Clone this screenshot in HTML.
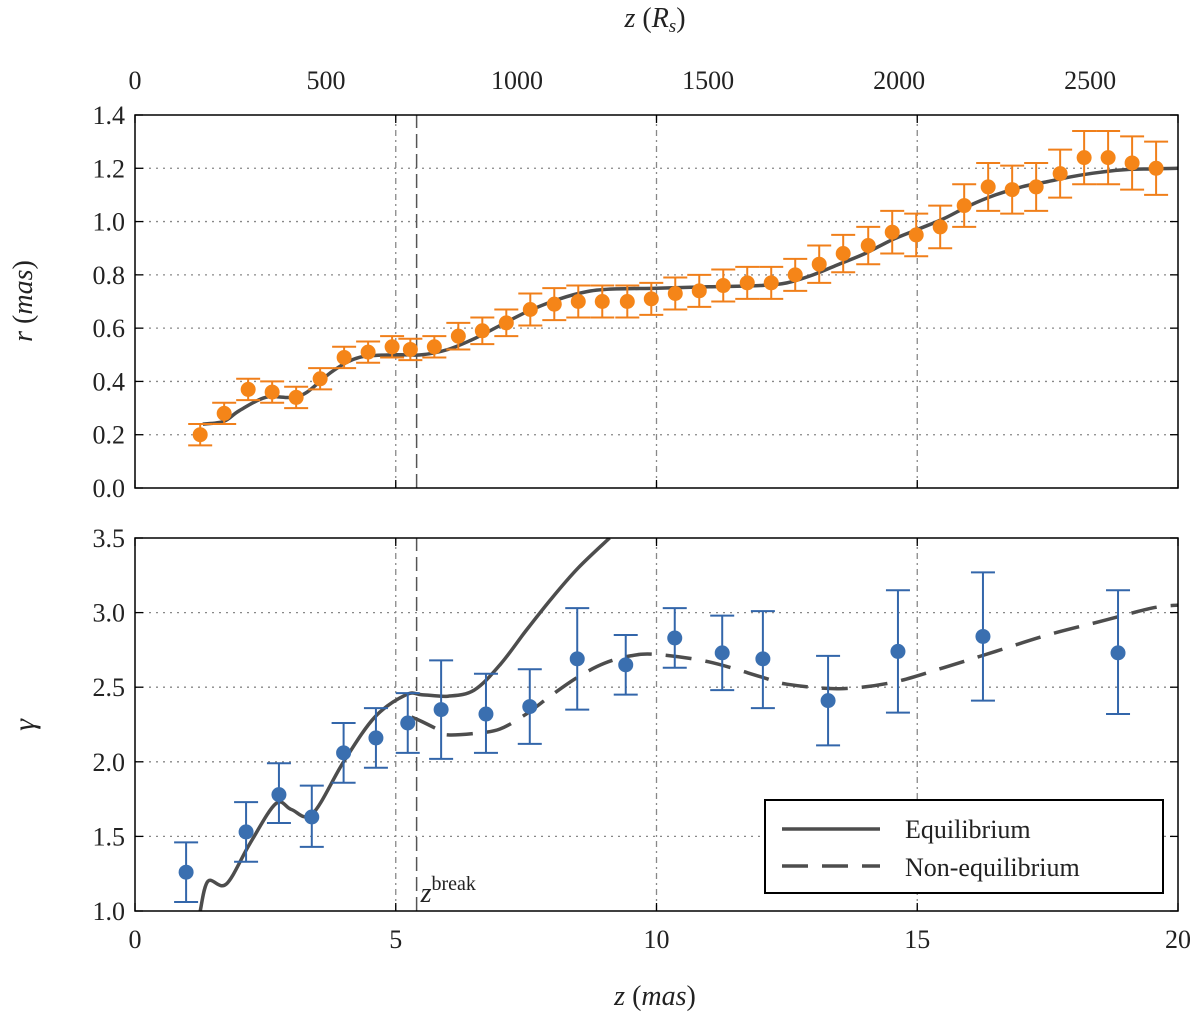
<!DOCTYPE html>
<html><head><meta charset="utf-8"><style>
body{margin:0;background:#fff}
svg text{font-family:"Liberation Serif",serif;fill:#222}
</style></head><body>
<svg id="chart" width="1200" height="1017" viewBox="0 0 1200 1017" xmlns="http://www.w3.org/2000/svg"></svg>
<script>
// ---- data ----
const rZ=[1.25,1.71,2.17,2.63,3.09,3.55,4.01,4.47,4.93,5.28,5.74,6.2,6.66,7.12,7.58,8.04,8.5,8.96,9.44,9.9,10.36,10.82,11.28,11.74,12.2,12.66,13.12,13.58,14.06,14.52,14.98,15.44,15.9,16.36,16.82,17.28,17.74,18.2,18.66,19.12,19.58];
const rVal=[0.20,0.28,0.37,0.36,0.34,0.41,0.49,0.51,0.53,0.52,0.53,0.57,0.59,0.62,0.67,0.69,0.70,0.70,0.70,0.71,0.73,0.74,0.76,0.77,0.77,0.80,0.84,0.88,0.91,0.96,0.95,0.98,1.06,1.13,1.12,1.13,1.18,1.24,1.24,1.22,1.20];
const rErr=[0.04,0.04,0.04,0.04,0.04,0.04,0.04,0.04,0.04,0.04,0.04,0.05,0.05,0.05,0.06,0.06,0.06,0.06,0.06,0.06,0.06,0.06,0.06,0.06,0.06,0.06,0.07,0.07,0.07,0.08,0.08,0.08,0.08,0.09,0.09,0.09,0.09,0.1,0.1,0.1,0.1];
const rFitZ=[1.3,1.7,2.0,2.5,3.0,3.3,3.8,4.3,5,5.5,6,6.5,7,7.5,8,8.5,9,10,11,12,12.5,13,13.5,14,14.5,15,15.5,16,16.5,17,17.5,18,18.5,19,20];
const rFitV=[0.24,0.25,0.29,0.34,0.34,0.36,0.44,0.49,0.50,0.50,0.52,0.56,0.61,0.66,0.70,0.73,0.745,0.75,0.755,0.76,0.77,0.80,0.84,0.88,0.93,0.97,1.01,1.06,1.10,1.13,1.15,1.17,1.185,1.195,1.20];
const gZ=[0.98,2.13,2.76,3.39,4.0,4.62,5.23,5.87,6.73,7.57,8.48,9.41,10.35,11.26,12.04,13.29,14.63,16.26,18.85];
const gVal=[1.26,1.53,1.78,1.63,2.06,2.16,2.26,2.35,2.32,2.37,2.69,2.65,2.83,2.73,2.69,2.41,2.74,2.84,2.73];
const gLo=[1.06,1.33,1.59,1.43,1.86,1.96,2.06,2.02,2.06,2.12,2.35,2.45,2.63,2.48,2.36,2.11,2.33,2.41,2.32];
const gHi=[1.46,1.73,1.99,1.84,2.26,2.36,2.46,2.68,2.59,2.62,3.03,2.85,3.03,2.98,3.01,2.71,3.15,3.27,3.15];
const eqZ=[1.25,1.4,1.75,2.2,2.7,3.0,3.4,4.0,4.6,5.2,5.5,6.0,6.5,7.0,7.5,8.0,8.5,9.1];
const eqV=[1.0,1.2,1.18,1.45,1.72,1.68,1.65,2.0,2.3,2.45,2.45,2.44,2.48,2.65,2.88,3.1,3.3,3.5];
const neqZ=[5.3,5.5,5.9,6.0,6.5,7.0,7.5,8.0,8.5,9.0,9.5,10.0,11,12,12.5,13.5,14.5,15.5,16.5,17.5,18.5,19.5,20];
const neqV=[2.30,2.27,2.2,2.18,2.19,2.22,2.32,2.45,2.57,2.66,2.71,2.72,2.67,2.57,2.52,2.49,2.53,2.63,2.74,2.85,2.94,3.03,3.05];
const xTicks=[0,5,10,15,20];
const rsTicks=[0,500,1000,1500,2000,2500];
const rTicks=[0.0,0.2,0.4,0.6,0.8,1.0,1.2,1.4];
const gTicks=[1.0,1.5,2.0,2.5,3.0,3.5];
const zBreak=5.4;
const rsPerMas=136.5;
// ---- axes ----
const X0=135,X1=1178;
const sx=v=>X0+(v/20)*(X1-X0);
const syT=v=>488-(v/1.4)*(488-115);
const syB=v=>911-((v-1)/2.5)*(911-538);
const NS="http://www.w3.org/2000/svg";
const svg=document.getElementById('chart');
function el(t,a,p){const e=document.createElementNS(NS,t);for(const k in a)e.setAttribute(k,a[k]);(p||svg).appendChild(e);return e;}
function txt(x,y,s,anchor,size,name){const t=el('text',{x:x,y:y,'text-anchor':anchor,'font-size':size});t.textContent=s;

return t;}
function panel(sy,yt,ymin,ymax,top){
 const g=el('g',{});
 
 
 const yA=sy(ymin),yB=sy(ymax);
 yt.forEach(v=>{const y=sy(v);
  if(v>ymin&&v<ymax){const l=el('line',{x1:X0,x2:X1,y1:y,y2:y,stroke:'#888','stroke-width':1.3,'stroke-dasharray':'2,5'},g);
  
  }
  el('line',{x1:X0,x2:X0+8,y1:y,y2:y,stroke:'#000','stroke-width':1.3},g);
  el('line',{x1:X1,x2:X1-8,y1:y,y2:y,stroke:'#000','stroke-width':1.3},g);
  txt(X0-10,y+9,v.toFixed(1),'end',26,'y-tick-label');});
 xTicks.forEach(v=>{const x=sx(v);
  if(v>0&&v<20){const l=el('line',{x1:x,x2:x,y1:yA,y2:yB,stroke:'#888','stroke-width':1.3,'stroke-dasharray':'6,4,2,4'},g);
  
  }
  el('line',{x1:x,x2:x,y1:yA,y2:yA-8,stroke:'#000','stroke-width':1.3},g);
  el('line',{x1:x,x2:x,y1:yB,y2:yB+8,stroke:'#000','stroke-width':1.3},g);});
 const zb=el('line',{x1:sx(zBreak),x2:sx(zBreak),y1:yA,y2:yB,stroke:'#555','stroke-width':1.5,'stroke-dasharray':'14,6'},g);
 
 
 return g;}
function path(xs,ys,sy){
 const P=xs.map((v,i)=>[sx(v),sy(ys[i])]);
 let d='M'+P[0][0].toFixed(1)+','+P[0][1].toFixed(1);
 for(let i=0;i<P.length-1;i++){
  const p0=P[i-1]||P[i],p1=P[i],p2=P[i+1],p3=P[i+2]||P[i+1];
  const c1=[p1[0]+(p2[0]-p0[0])/6,p1[1]+(p2[1]-p0[1])/6];
  const c2=[p2[0]-(p3[0]-p1[0])/6,p2[1]-(p3[1]-p1[1])/6];
  d+=' C'+c1[0].toFixed(1)+','+c1[1].toFixed(1)+' '+c2[0].toFixed(1)+','+c2[1].toFixed(1)+' '+p2[0].toFixed(1)+','+p2[1].toFixed(1);
 }
 return d;}
// top panel
panel(syT,rTicks,0,1.4,true);
const eqTop=el('path',{d:path(rFitZ,rFitV,syT),fill:'none',stroke:'#4d4d4d','stroke-width':3.5});


rZ.forEach((z,i)=>{const x=sx(z),y1=syT(rVal[i]-rErr[i]),y2=syT(rVal[i]+rErr[i]);
 const g=el('g',{stroke:'#f07f1a','stroke-width':2});
 
 
 el('line',{x1:x,x2:x,y1:y1,y2:y2},g);el('line',{x1:x-12,x2:x+12,y1:y1,y2:y1},g);el('line',{x1:x-12,x2:x+12,y1:y2,y2:y2},g);
 el('circle',{cx:x,cy:syT(rVal[i]),r:7.5,fill:'#f58518',stroke:'none'},g);});
el('rect',{x:X0,y:115,width:X1-X0,height:373,fill:'none',stroke:'#000','stroke-width':1.5});
rsTicks.forEach(v=>{const x=sx(v/rsPerMas);txt(x,89,String(v),'middle',26,'top-x-tick-label');});
const tt=txt(655,27,'','middle',28,'top-x-title');
tt.innerHTML='<tspan font-style="italic">z</tspan> (<tspan font-style="italic">R</tspan><tspan font-style="italic" font-size="19" dy="5">s</tspan><tspan dy="-5">)</tspan>';
const yl1=txt(0,0,'','middle',28,'top-y-title');yl1.setAttribute('transform','translate(32,301) rotate(-90)');
yl1.innerHTML='<tspan font-style="italic">r</tspan> (<tspan font-style="italic">mas</tspan>)';
// bottom panel
panel(syB,gTicks,1,3.5,false);
const clip=el('clipPath',{id:'cb'});el('rect',{x:X0,y:538,width:X1-X0,height:373},clip);
const eqB=el('path',{d:path(eqZ,eqV,syB),fill:'none',stroke:'#4d4d4d','stroke-width':3.5,'clip-path':'url(#cb)'});


const nB=el('path',{d:path(neqZ,neqV,syB),fill:'none',stroke:'#4d4d4d','stroke-width':3.5,'stroke-dasharray':'26,14','clip-path':'url(#cb)'});


gZ.forEach((z,i)=>{const x=sx(z),y1=syB(gLo[i]),y2=syB(gHi[i]);
 const g=el('g',{stroke:'#3366aa','stroke-width':2});
 
 
 el('line',{x1:x,x2:x,y1:y1,y2:y2},g);el('line',{x1:x-12,x2:x+12,y1:y1,y2:y1},g);el('line',{x1:x-12,x2:x+12,y1:y2,y2:y2},g);
 el('circle',{cx:x,cy:syB(gVal[i]),r:7.5,fill:'#3a6fb0',stroke:'none'},g);});
el('rect',{x:X0,y:538,width:X1-X0,height:373,fill:'none',stroke:'#000','stroke-width':1.5});
xTicks.forEach(v=>txt(sx(v),948,String(v),'middle',26,'x-tick-label'));
const xl=txt(655,1005,'','middle',28,'x-axis-title');xl.innerHTML='<tspan font-style="italic">z</tspan> (<tspan font-style="italic">mas</tspan>)';
const yl2=txt(0,0,'γ','middle',30,'bottom-y-title');yl2.setAttribute('transform','translate(34,725) rotate(-90)');yl2.setAttribute('font-style','italic');
const zbl=txt(sx(zBreak)+4,902,'','start',28,'z-break-label');zbl.innerHTML='<tspan font-style="italic">z</tspan><tspan font-size="20" dy="-12">break</tspan>';
// legend
const lg=el('g',{});


el('rect',{x:765,y:800,width:398,height:93,fill:'#fff',stroke:'#000','stroke-width':2},lg);
el('line',{x1:782,x2:880,y1:829,y2:829,stroke:'#4d4d4d','stroke-width':3.5},lg);
el('line',{x1:782,x2:880,y1:866,y2:866,stroke:'#4d4d4d','stroke-width':3.5,'stroke-dasharray':'26,14'},lg);
const l1=txt(905,838,'Equilibrium','start',26,'legend-equilibrium');lg.appendChild(l1);
const l2=txt(905,876,'Non-equilibrium','start',26,'legend-nonequilibrium');lg.appendChild(l2);
</script>
</body></html>
